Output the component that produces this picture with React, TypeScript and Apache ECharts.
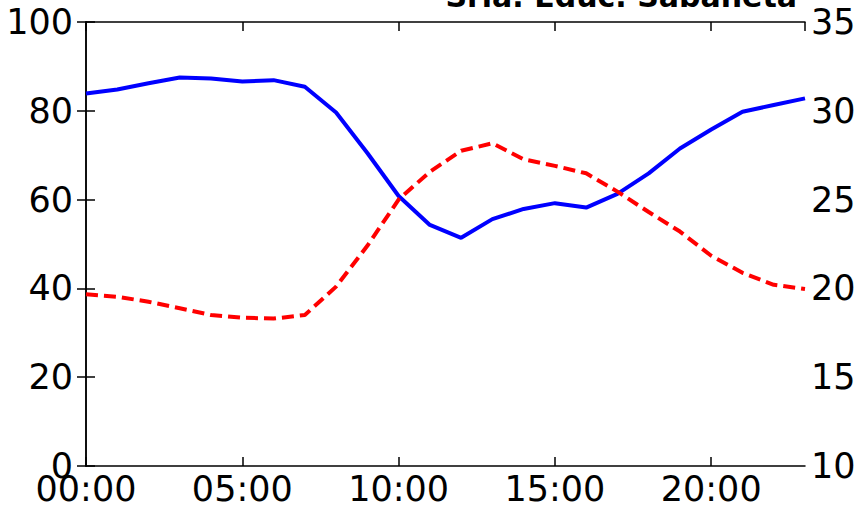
import React, { useEffect, useRef } from "react";
import * as echarts from "echarts";

const hours = [0, 1, 2, 3, 4, 5, 6, 7, 8, 9, 10, 11, 12, 13, 14, 15, 16, 17, 18, 19, 20, 21, 22, 23];
const humidity = [83.9, 84.8, 86.2, 87.5, 87.3, 86.6, 86.9, 85.4, 79.6, 70.5, 60.8, 54.3, 51.4, 55.6, 57.9, 59.2, 58.2, 61.3, 65.9, 71.5, 75.8, 79.8, 81.3, 82.8];
const temperature = [19.67, 19.53, 19.25, 18.88, 18.5, 18.35, 18.3, 18.5, 20.1, 22.4, 25.0, 26.57, 27.75, 28.17, 27.27, 26.9, 26.48, 25.45, 24.3, 23.2, 21.84, 20.88, 20.2, 19.97];
const title = "Sria. Educ. Sabaneta";

const FONT = "DejaVu Sans";

export default function App() {
  const ref = useRef<HTMLDivElement>(null);
  useEffect(() => {
    if (!ref.current) return;
    const chart = echarts.init(ref.current, null, { renderer: "svg" });
    const axisLine = { show: true, lineStyle: { color: "#000", width: 1.5 } };
    const tick = { show: true, inside: true, length: 9, lineStyle: { color: "#000", width: 1.5 } };
    const label = { color: "#000", fontSize: 35, fontFamily: FONT };
    const fmt = (v: number) => (v < 10 ? "0" + v : "" + v) + ":00";
    chart.setOption({
      animation: false,
      backgroundColor: "#fff",
      grid: { left: 86, right: 62, top: 22, bottom: 43, containLabel: false },
      graphic: [
        {
          type: "text",
          x: 797,
          y: -3.5,
          style: {
            text: title,
            align: "right",
            verticalAlign: "middle",
            fontFamily: FONT,
            fontWeight: "bold",
            fontSize: 30,
            fill: "#000",
          },
        },
      ],
      xAxis: [
        {
          type: "value",
          position: "bottom",
          min: 0,
          max: 23,
          interval: 5,
          axisLine,
          axisTick: tick,
          splitLine: { show: false },
          axisLabel: { ...label, margin: 5, showMaxLabel: false, formatter: fmt },
        },
        {
          type: "value",
          position: "top",
          min: 0,
          max: 23,
          interval: 5,
          axisLine,
          axisTick: tick,
          splitLine: { show: false },
          axisLabel: { show: false },
        },
      ],
      yAxis: [
        {
          type: "value",
          position: "left",
          min: 0,
          max: 100,
          interval: 20,
          axisLine,
          axisTick: tick,
          splitLine: { show: false },
          axisLabel: { ...label, margin: 13 },
        },
        {
          type: "value",
          position: "right",
          min: 10,
          max: 35,
          interval: 5,
          axisLine,
          axisTick: tick,
          splitLine: { show: false },
          axisLabel: { ...label, margin: 6 },
        },
      ],
      series: [
        {
          type: "line",
          xAxisIndex: 0,
          yAxisIndex: 0,
          data: hours.map((h, i) => [h, humidity[i]]),
          symbol: "none",
          lineStyle: { color: "#0000ff", width: 4 },
          itemStyle: { color: "#0000ff" },
        },
        {
          type: "line",
          xAxisIndex: 0,
          yAxisIndex: 1,
          data: hours.map((h, i) => [h, temperature[i]]),
          symbol: "none",
          lineStyle: { color: "#ff0000", width: 4, type: [12, 6] },
          itemStyle: { color: "#ff0000" },
        },
      ],
    });
    return () => chart.dispose();
  }, []);
  return (
    <div
      ref={ref}
      style={{ position: "fixed", left: 0, top: 0, width: 867, height: 509 }}
    />
  );
}
